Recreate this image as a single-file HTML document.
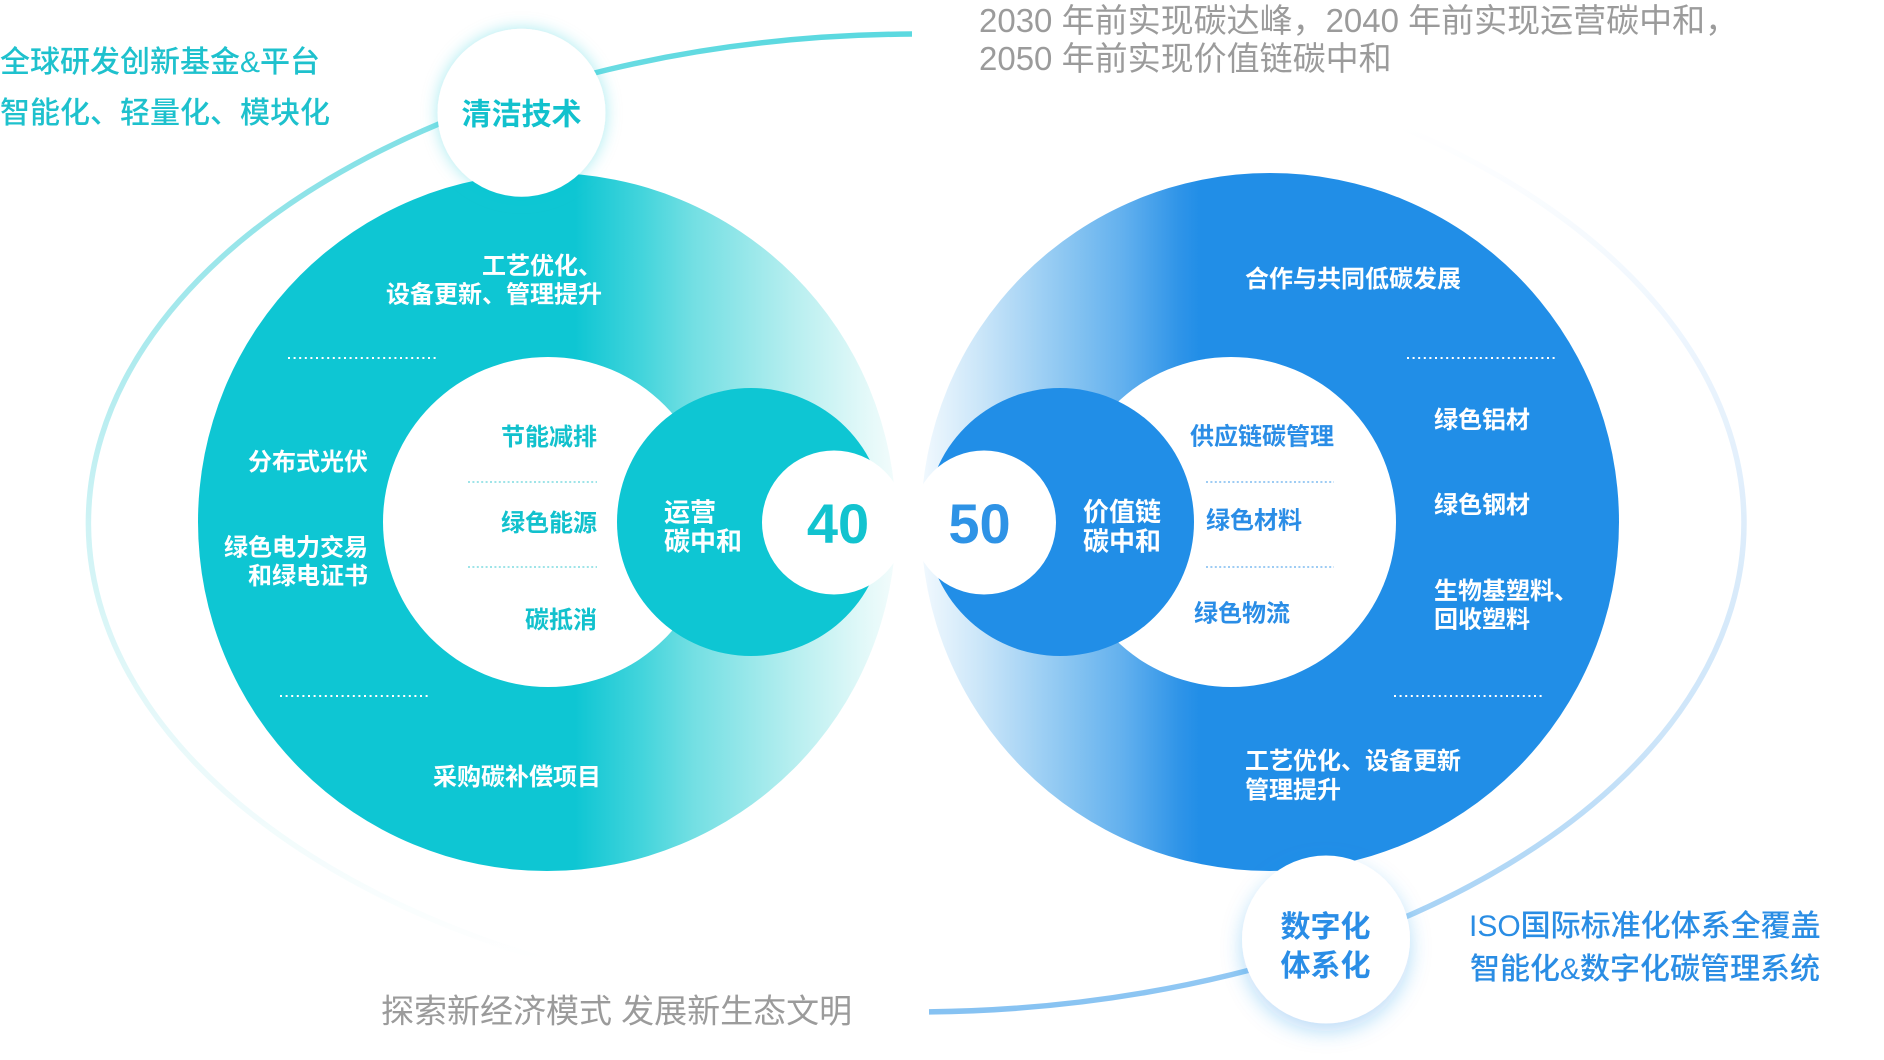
<!DOCTYPE html>
<html>
<head>
<meta charset="utf-8">
<style>
  html,body{margin:0;padding:0;background:#fff;}
  body{width:1884px;height:1060px;overflow:hidden;}
  svg{display:block;}
</style>
</head>
<body>
<svg width="1884" height="1060" viewBox="0 0 1884 1060" xmlns="http://www.w3.org/2000/svg">
  <defs>
    <linearGradient id="gL" gradientUnits="userSpaceOnUse" x1="198" y1="0" x2="896" y2="0">
      <stop offset="0" stop-color="#0ec6d3"/>
      <stop offset="0.54" stop-color="#0ec6d3"/>
      <stop offset="0.64" stop-color="#45d5dc"/>
      <stop offset="0.71" stop-color="#73dfe3"/>
      <stop offset="0.85" stop-color="#b5eeef"/>
      <stop offset="0.95" stop-color="#e0f8f8"/>
      <stop offset="1" stop-color="#f3fcfc"/>
    </linearGradient>
    <linearGradient id="gR" gradientUnits="userSpaceOnUse" x1="921" y1="0" x2="1619" y2="0">
      <stop offset="0" stop-color="#f2f9fe"/>
      <stop offset="0.08" stop-color="#cde7f9"/>
      <stop offset="0.15" stop-color="#a9d5f5"/>
      <stop offset="0.22" stop-color="#85c3f1"/>
      <stop offset="0.29" stop-color="#62b0ee"/>
      <stop offset="0.37" stop-color="#2f94e8"/>
      <stop offset="0.40" stop-color="#218ee7"/>
      <stop offset="1" stop-color="#218ee7"/>
    </linearGradient>
    <linearGradient id="aL" gradientUnits="userSpaceOnUse" x1="0" y1="40" x2="0" y2="960">
      <stop offset="0" stop-color="#5cd9e0"/>
      <stop offset="0.08" stop-color="#7ddfe5"/>
      <stop offset="0.17" stop-color="#8fe3e8"/>
      <stop offset="0.53" stop-color="#cff3f5"/>
      <stop offset="0.76" stop-color="#e8f9fa"/>
      <stop offset="1" stop-color="#ffffff"/>
    </linearGradient>
    <linearGradient id="aR" gradientUnits="userSpaceOnUse" x1="0" y1="0" x2="0" y2="1012">
      <stop offset="0" stop-color="#ffffff"/>
      <stop offset="0.125" stop-color="#ffffff"/>
      <stop offset="0.3" stop-color="#f0f7fe"/>
      <stop offset="0.515" stop-color="#deedfb"/>
      <stop offset="0.73" stop-color="#cde5f9"/>
      <stop offset="0.91" stop-color="#a6d2f5"/>
      <stop offset="1" stop-color="#86c2f2"/>
    </linearGradient>
    <filter id="glowT" x="-40%" y="-40%" width="180%" height="180%">
      <feDropShadow dx="0" dy="0" stdDeviation="8" flood-color="#0ec6d3" flood-opacity="0.35"/>
    </filter>
    <filter id="glowB" x="-40%" y="-40%" width="180%" height="180%">
      <feDropShadow dx="0" dy="8" stdDeviation="10" flood-color="#218ee7" flood-opacity="0.3"/>
    </filter>
  </defs>

  <!-- outer ellipse arcs -->
  <path d="M 912 34.02 A 831 489 0 0 0 918 1012" fill="none" stroke="url(#aL)" stroke-width="5.5"/>
  <path d="M 918 34 A 831 489 0 0 1 929 1011.9" fill="none" stroke="url(#aR)" stroke-width="5.5"/>

  <!-- big circles -->
  <circle cx="547" cy="522" r="349" fill="url(#gL)"/>
  <circle cx="1270" cy="522" r="349" fill="url(#gR)"/>
  <!-- inner white -->
  <circle cx="548" cy="522" r="165" fill="#fff"/>
  <circle cx="1231" cy="522" r="165" fill="#fff"/>
  <!-- small solid -->
  <circle cx="751" cy="522" r="134" fill="#0ec6d3"/>
  <circle cx="1060" cy="522" r="134" fill="#218ee7"/>
  <!-- white number circles -->
  <circle cx="834" cy="522.5" r="72" fill="#fff"/>
  <circle cx="984" cy="522.5" r="72" fill="#fff"/>

  <!-- node circles -->
  <circle cx="521.5" cy="112.8" r="84" fill="#fff" filter="url(#glowT)"/>
  <circle cx="1326" cy="939.5" r="84" fill="#fff" filter="url(#glowB)"/>

  <!-- dotted lines -->
  <g stroke="#fff" stroke-width="2" stroke-dasharray="2 3.6" fill="none">
    <line x1="288" y1="358" x2="436" y2="358"/>
    <line x1="280" y1="696" x2="428" y2="696"/>
    <line x1="1407" y1="358" x2="1556" y2="358"/>
    <line x1="1394" y1="696" x2="1543" y2="696"/>
  </g>
  <g stroke="#7fdbe1" stroke-width="1.6" stroke-dasharray="2 2.4" fill="none">
    <line x1="468" y1="482" x2="597" y2="482"/>
    <line x1="468" y1="567" x2="597" y2="567"/>
  </g>
  <g stroke="#7dbbf0" stroke-width="1.6" stroke-dasharray="2 2.4" fill="none">
    <line x1="1206" y1="482" x2="1334" y2="482"/>
    <line x1="1206" y1="567" x2="1334" y2="567"/>
  </g>

  <g font-family="'Liberation Sans','Noto Sans CJK SC',sans-serif">
    <!-- outer texts -->
    <text x="0" y="71.9" font-size="30" font-weight="500" fill="#1ec1cd">全球研发创新基金&amp;平台</text>
    <text x="0" y="122.9" font-size="30" font-weight="500" fill="#1ec1cd">智能化、轻量化、模块化</text>
    <text x="979" y="32" font-size="33" fill="#9b9b9b">2030 年前实现碳达峰，2040 年前实现运营碳中和，</text>
    <text x="979" y="70" font-size="33" fill="#9b9b9b">2050 年前实现价值链碳中和</text>
    <text x="381" y="1022.5" font-size="33" fill="#9b9b9b">探索新经济模式 发展新生态文明</text>
    <text x="1469" y="935.9" font-size="30" font-weight="500" fill="#2a8de4">ISO国际标准化体系全覆盖</text>
    <text x="1470" y="978.9" font-size="30" font-weight="500" fill="#2a8de4">智能化&amp;数字化碳管理系统</text>

    <!-- node labels -->
    <text x="521.5" y="124.4" text-anchor="middle" font-size="30" font-weight="700" fill="#12c1cd">清洁技术</text>
    <text x="1325.5" y="936.9" text-anchor="middle" font-size="30" font-weight="700" fill="#2a8de6">数字化</text>
    <text x="1325.5" y="975.9" text-anchor="middle" font-size="30" font-weight="700" fill="#2a8de6">体系化</text>

    <!-- left big ring labels -->
    <g font-size="24" font-weight="700" fill="#fff" text-anchor="end">
      <text x="602" y="274">工艺优化、</text>
      <text x="602" y="302.6">设备更新、管理提升</text>
      <text x="368" y="470">分布式光伏</text>
      <text x="368" y="555.6">绿色电力交易</text>
      <text x="368" y="584">和绿电证书</text>
      <text x="601" y="785">采购碳补偿项目</text>
    </g>
    <g font-size="24" font-weight="700" fill="#12c1cd" text-anchor="end">
      <text x="597" y="445">节能减排</text>
      <text x="597" y="531">绿色能源</text>
      <text x="597" y="628">碳抵消</text>
    </g>
    <g font-size="26" font-weight="700" fill="#fff">
      <text x="664" y="521.4">运营</text>
      <text x="664" y="550.4">碳中和</text>
      <text x="1083" y="520.9">价值链</text>
      <text x="1083" y="550.4">碳中和</text>
    </g>
    <text x="838" y="543" text-anchor="middle" font-size="56" font-weight="700" fill="#12c3cf">40</text>
    <text x="979.5" y="543" text-anchor="middle" font-size="56" font-weight="700" fill="#2e93e6">50</text>

    <!-- right big ring labels -->
    <g font-size="24" font-weight="700" fill="#fff">
      <text x="1245" y="287">合作与共同低碳发展</text>
      <text x="1245" y="769">工艺优化、设备更新</text>
      <text x="1245" y="798">管理提升</text>
      <text x="1434" y="428">绿色铝材</text>
      <text x="1434" y="513">绿色钢材</text>
      <text x="1434" y="599">生物基塑料、</text>
      <text x="1434" y="627.6">回收塑料</text>
    </g>
    <g font-size="24" font-weight="700" fill="#2a8de6">
      <text x="1190" y="444.6">供应链碳管理</text>
      <text x="1206" y="528.6">绿色材料</text>
      <text x="1194" y="621.6">绿色物流</text>
    </g>
  </g>
</svg>
</body>
</html>
